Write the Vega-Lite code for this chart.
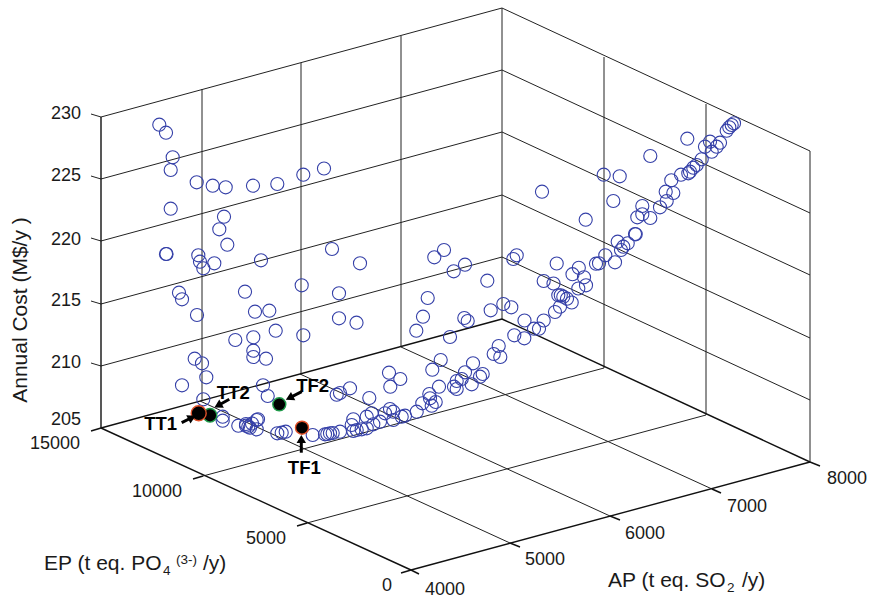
{
"$schema":"https://vega.github.io/schema/vega-lite/v6.json",
"width":869,"height":601,"padding":0,
"autosize":{"type":"fit","contains":"padding"},
"background":"white",
"view":{"stroke":null},
"datasets":{
"grid":[
{"x":200,"y":401,"x2":510,"y2":543},{"x":300,"y":374,"x2":610,"y2":516},{"x":401,"y":347,"x2":712,"y2":489},
{"x":307,"y":523,"x2":706,"y2":415},{"x":203,"y":476,"x2":604,"y2":368},
{"x":101,"y":366,"x2":502,"y2":257},{"x":101,"y":304,"x2":502,"y2":195},{"x":101,"y":241,"x2":502,"y2":132},{"x":101,"y":179,"x2":502,"y2":70},{"x":101,"y":117,"x2":502,"y2":8},
{"x":502,"y":257,"x2":810,"y2":400},{"x":502,"y":195,"x2":810,"y2":338},{"x":502,"y":132,"x2":810,"y2":275},{"x":502,"y":70,"x2":810,"y2":213},{"x":502,"y":8,"x2":810,"y2":151},
{"x":202,"y":401,"x2":202,"y2":89},{"x":301,"y":374,"x2":301,"y2":63},{"x":401,"y":347,"x2":401,"y2":36},{"x":502,"y":319,"x2":502,"y2":8},{"x":604,"y":368,"x2":604,"y2":57},{"x":706,"y":415,"x2":706,"y2":104},{"x":810,"y":462,"x2":810,"y2":151},
{"x":101,"y":117,"x2":91,"y2":114},{"x":101,"y":179,"x2":91,"y2":176},{"x":101,"y":241,"x2":91,"y2":238},{"x":101,"y":304,"x2":91,"y2":301},{"x":101,"y":366,"x2":91,"y2":363}
],
"frame":[
{"x":101,"y":428,"x2":411,"y2":570},{"x":411,"y":570,"x2":810,"y2":462},{"x":101,"y":428,"x2":502,"y2":319},{"x":502,"y":319,"x2":810,"y2":462},{"x":101,"y":428,"x2":101,"y2":117},
{"x":101,"y":428,"x2":91,"y2":431},{"x":307,"y":523,"x2":297,"y2":526},{"x":203,"y":476,"x2":193,"y2":479},{"x":411,"y":570,"x2":401,"y2":573},
{"x":411,"y":570,"x2":419,"y2":574},{"x":510,"y":543,"x2":520,"y2":547},{"x":610,"y":516,"x2":620,"y2":520},{"x":712,"y":489,"x2":721,"y2":493},{"x":810,"y":462,"x2":820,"y2":466}
],
"points":[
{"x":159.3,"y":124.7},{"x":166,"y":132.7},{"x":172.7,"y":157.3},{"x":170.7,"y":170},{"x":196.7,"y":182.3},{"x":212.7,"y":185.7},{"x":225.7,"y":187.3},{"x":253,"y":185.7},{"x":277.3,"y":184},{"x":303.3,"y":174.7},{"x":324,"y":168.5},{"x":170.7,"y":208.7},{"x":224,"y":216.7},{"x":219.3,"y":229.3},{"x":227.3,"y":244.7},{"x":166,"y":254},{"x":166.5,"y":254},{"x":198.3,"y":255.3},{"x":200,"y":261.7},{"x":203.3,"y":268.3},{"x":214.3,"y":263.3},{"x":261,"y":260.3},
{"x":179,"y":292.7},{"x":182,"y":299.3},{"x":197,"y":315},{"x":245,"y":291.7},{"x":255,"y":311.7},{"x":269.3,"y":310.7},{"x":301.7,"y":285.3},{"x":339,"y":293.3},{"x":339,"y":318.3},{"x":356.5,"y":322.7},{"x":275.7,"y":330.7},{"x":303.3,"y":335.3},{"x":235.3,"y":340},{"x":253.3,"y":337.3},{"x":253.3,"y":350.7},{"x":253.3,"y":357},{"x":266,"y":358.7},{"x":194.7,"y":358.7},{"x":202,"y":363.3},{"x":206.3,"y":377.3},{"x":182,"y":385.3},{"x":263,"y":385.3},{"x":267.7,"y":396},{"x":203.3,"y":399.3},{"x":336.7,"y":394.7},{"x":350,"y":388.3},{"x":332,"y":249},{"x":360,"y":263.3},
{"x":222.7,"y":416.7},{"x":222.7,"y":420.7},{"x":238.3,"y":425.7},{"x":246,"y":425.7},{"x":248.3,"y":426.7},{"x":250,"y":427.7},{"x":256.7,"y":429.3},{"x":256.7,"y":420},{"x":258,"y":419.3},{"x":246,"y":424},{"x":252,"y":423.5},{"x":277.3,"y":433.3},{"x":281.7,"y":432.7},{"x":285.7,"y":431.7},{"x":312.7,"y":435},{"x":325,"y":434.3},{"x":327.3,"y":434},{"x":330,"y":433.3},{"x":332.7,"y":433},{"x":340,"y":431.7},
{"x":444,"y":250},{"x":434.3,"y":257.3},{"x":465,"y":264.7},{"x":453.7,"y":271.3},{"x":487.3,"y":280.7},{"x":427.7,"y":298},{"x":423,"y":316.7},{"x":416.3,"y":330.7},{"x":450,"y":337},{"x":464.3,"y":318},{"x":467.7,"y":321},{"x":490.7,"y":310.3},{"x":503.3,"y":304},{"x":511.3,"y":307.3},{"x":516.7,"y":255.3},{"x":513.3,"y":259},{"x":556.7,"y":263.5},{"x":543.7,"y":281},{"x":553.5,"y":283.5},{"x":572.5,"y":274.2},{"x":578.8,"y":267.8},{"x":578.3,"y":288.5},{"x":558.3,"y":295.3},{"x":560.8,"y":295.3},{"x":563.3,"y":296.7},{"x":567,"y":298.7},{"x":571.7,"y":302.5},{"x":560,"y":306.7},{"x":555,"y":312},{"x":543.7,"y":320.5},{"x":524.5,"y":320.5},{"x":539,"y":328.7},{"x":534,"y":328.7},{"x":514.3,"y":335.3},{"x":524.3,"y":338.3},{"x":498.7,"y":346},{"x":493.7,"y":354},{"x":500.3,"y":357},{"x":473,"y":363.3},{"x":440.7,"y":360},{"x":432.3,"y":369.7},{"x":465,"y":372.3},{"x":482.7,"y":374},{"x":480,"y":376.7},{"x":461.7,"y":379},{"x":471.7,"y":384.3},{"x":456.7,"y":381},{"x":454,"y":386.7},{"x":456.7,"y":389},{"x":439,"y":386.7},{"x":389,"y":372.7},{"x":400.3,"y":379},{"x":390.3,"y":386.7},{"x":369.3,"y":398},{"x":429.3,"y":394},{"x":430,"y":398.3},{"x":435.7,"y":402},{"x":431.7,"y":405.7},{"x":422.3,"y":403.3},{"x":416.7,"y":411.7},{"x":405,"y":415.7},{"x":401.7,"y":416.7},{"x":393.3,"y":420},{"x":393.3,"y":411.7},{"x":390,"y":409},{"x":385,"y":413.3},{"x":371.7,"y":413.3},{"x":366.7,"y":416.7},{"x":353.3,"y":419.3},{"x":380,"y":421.7},{"x":373.3,"y":424.3},{"x":351.7,"y":425},{"x":366.7,"y":428.3},{"x":361.7,"y":429.3},{"x":356.7,"y":430},{"x":353.3,"y":431},{"x":340,"y":393},
{"x":734,"y":123.3},{"x":731.7,"y":125},{"x":729.3,"y":127.3},{"x":726.7,"y":130.7},{"x":687.3,"y":138.7},{"x":720,"y":142.7},{"x":710,"y":141.7},{"x":705,"y":146.7},{"x":716.7,"y":146.7},{"x":711.7,"y":151.7},{"x":650.3,"y":156},{"x":701.7,"y":159.3},{"x":696.7,"y":165},{"x":693.3,"y":167.7},{"x":690,"y":171.7},{"x":688.3,"y":173.3},{"x":681,"y":174.7},{"x":603.7,"y":174.7},{"x":619.7,"y":176.3},{"x":671.3,"y":180.3},{"x":665.7,"y":191.7},{"x":673.3,"y":193},{"x":542,"y":191.7},{"x":613.3,"y":201},{"x":666.7,"y":201},{"x":660,"y":207.3},{"x":642.3,"y":206},{"x":642.3,"y":214.3},{"x":637.3,"y":217.3},{"x":650.3,"y":218},{"x":585.7,"y":219.7},{"x":635,"y":234},{"x":635.7,"y":234.3},{"x":627.7,"y":243.3},{"x":623.3,"y":246.7},{"x":617.7,"y":241.7},{"x":621,"y":250},{"x":605.3,"y":255.3},{"x":615,"y":262.3},{"x":599,"y":263.3},{"x":596,"y":263.7},{"x":584,"y":277.3},{"x":586,"y":285.3}
],
"tradeoffGreenA":[{"x":210,"y":415.3,"name":"TT2"}],
"tradeoffGreenB":[{"x":279.3,"y":404.3,"name":"TF2"}],
"tradeoffRedA":[{"x":198.7,"y":413.3,"name":"TT1"}],
"tradeoffRedB":[{"x":302,"y":427.7,"name":"TF1"}],
"shafts":[{"x":301.3,"y":452.7,"x2":301.3,"y2":440},{"x":301.7,"y":391.7,"x2":290,"y2":397.6},{"x":229.3,"y":399.3,"x2":219,"y2":405},{"x":181.7,"y":422.7,"x2":191,"y2":418}],
"heads":[{"x":301.3,"y":439,"dir":0},{"x":289.5,"y":398,"dir":243},{"x":218,"y":405.6,"dir":241},{"x":192,"y":417.5,"dir":63}],
"callouts":[{"x":160.7,"y":424.3,"t":"TT1"},{"x":233.3,"y":393.3,"t":"TT2"},{"x":312.7,"y":385.7,"t":"TF2"},{"x":304.3,"y":468.3,"t":"TF1"}],
"ticks":[{"x":66,"y":114,"t":"230"},{"x":66,"y":176,"t":"225"},{"x":66,"y":240,"t":"220"},{"x":66,"y":301,"t":"215"},{"x":66,"y":363,"t":"210"},{"x":66,"y":420,"t":"205"},
{"x":55,"y":444,"t":"15000"},{"x":157,"y":492,"t":"10000"},{"x":266,"y":539,"t":"5000"},{"x":387,"y":586,"t":"0"},
{"x":445,"y":590,"t":"4000"},{"x":545,"y":560,"t":"5000"},{"x":645,"y":534,"t":"6000"},{"x":747,"y":507,"t":"7000"},{"x":847,"y":479,"t":"8000"}],
"titles":[{"x":44,"y":570,"t":"EP (t eq. PO"},{"x":203,"y":570,"t":"/y)"},{"x":608,"y":587,"t":"AP (t eq. SO"},{"x":742,"y":587,"t":"/y)"}],
"subs":[{"x":163,"y":575,"t":"4"},{"x":176,"y":564,"t":"(3-)"},{"x":727,"y":592,"t":"2"}],
"ytitle":[{"x":27,"y":310,"t":"Annual Cost (M$/y )"}]
},
"encoding":{
"x":{"field":"x","type":"quantitative","scale":{"domain":[0,869],"nice":false,"zero":false},"axis":null},
"y":{"field":"y","type":"quantitative","scale":{"domain":[601,0],"nice":false,"zero":false},"axis":null}
},
"layer":[
{"data":{"name":"grid"},"mark":{"type":"rule","stroke":"#222222","strokeWidth":1},"encoding":{"x2":{"field":"x2"},"y2":{"field":"y2"}}},
{"data":{"name":"frame"},"mark":{"type":"rule","stroke":"#111111","strokeWidth":1.4},"encoding":{"x2":{"field":"x2"},"y2":{"field":"y2"}}},
{"data":{"name":"points"},"mark":{"type":"point","shape":"circle","filled":false,"size":172,"stroke":"#3540a8","strokeWidth":1.1,"opacity":1}},
{"data":{"name":"tradeoffGreenA"},"mark":{"type":"point","shape":"circle","filled":true,"size":185,"fill":"#000000","stroke":"#1f9a4a","strokeWidth":1.4,"opacity":1}},
{"data":{"name":"tradeoffGreenB"},"mark":{"type":"point","shape":"circle","filled":true,"size":170,"fill":"#000000","stroke":"#1f9a4a","strokeWidth":1.4,"opacity":1}},
{"data":{"name":"tradeoffRedA"},"mark":{"type":"point","shape":"circle","filled":true,"size":225,"fill":"#000000","stroke":"#e0512a","strokeWidth":1.4,"opacity":1}},
{"data":{"name":"tradeoffRedB"},"mark":{"type":"point","shape":"circle","filled":true,"size":170,"fill":"#000000","stroke":"#e0512a","strokeWidth":1.4,"opacity":1}},
{"data":{"name":"shafts"},"mark":{"type":"rule","stroke":"#000000","strokeWidth":3},"encoding":{"x2":{"field":"x2"},"y2":{"field":"y2"}}},
{"data":{"name":"heads"},"mark":{"type":"point","shape":"triangle-up","filled":true,"size":90,"fill":"#000000","strokeWidth":0,"opacity":1},"encoding":{"angle":{"field":"dir","type":"quantitative","scale":null}}},
{"data":{"name":"callouts"},"mark":{"type":"text","font":"Liberation Sans","fontSize":18.5,"fontWeight":"bold","fill":"#000000","align":"center","baseline":"middle"},"encoding":{"text":{"field":"t"}}},
{"data":{"name":"ticks"},"mark":{"type":"text","font":"Liberation Sans","fontSize":18,"fill":"#1a1a1a","align":"center","baseline":"middle"},"encoding":{"text":{"field":"t"}}},
{"data":{"name":"titles"},"mark":{"type":"text","font":"Liberation Sans","fontSize":21,"fill":"#1a1a1a","align":"left","baseline":"alphabetic"},"encoding":{"text":{"field":"t"}}},
{"data":{"name":"subs"},"mark":{"type":"text","font":"Liberation Sans","fontSize":13.5,"fill":"#1a1a1a","align":"left","baseline":"alphabetic"},"encoding":{"text":{"field":"t"}}},
{"data":{"name":"ytitle"},"mark":{"type":"text","font":"Liberation Sans","fontSize":21,"fill":"#1a1a1a","align":"center","baseline":"alphabetic","angle":270},"encoding":{"text":{"field":"t"}}}
]
}
